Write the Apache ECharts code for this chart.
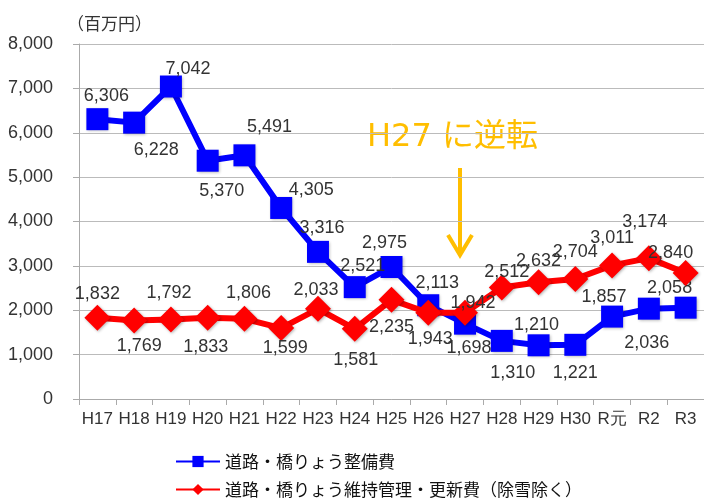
<!DOCTYPE html>
<html><head><meta charset="utf-8">
<script src="https://cdn.jsdelivr.net/npm/echarts@6/dist/echarts.min.js"></script>
<style>html,body{margin:0;padding:0;background:#fff}#c{width:704px;height:500px}</style>
</head><body><div id="c"></div>
<script>
const categories = ['H17','H18','H19','H20','H21','H22','H23','H24','H25','H26','H27','H28','H29','H30','R元','R2','R3'];
const seriesNames = ['道路・橋りょう整備費','道路・橋りょう維持管理・更新費（除雪除く）'];
const seriesBlue = [6306,6228,7042,5370,5491,4305,3316,2521,2975,2113,1698,1310,1210,1221,1857,2036,2058];
const seriesRed = [1832,1769,1792,1833,1806,1599,2033,1581,2235,1943,1942,2512,2632,2704,3011,3174,2840];
const yTicks = [0,1000,2000,3000,4000,5000,6000,7000,8000];
// label offsets (relative to each point), as placed in the original
const blueLabelOffset = [[9,-23],[22,27],[17,-17],[14,30],[25,-28],[30,-18],[4,-24],[8,-21],[-7,-24],[9,-22],[4,24],[11,32],[-2,-20],[0,28],[-8,-20],[-2,34],[-16,-20]];
const redLabelOffset = [[0,-24],[5,26],[-2,-26],[-2,29],[4,-26],[4,20],[-2,-19],[1,31],[0,27],[2,26],[8,-10],[5,-15],[0,-21],[0,-27],[0,-27],[-4,-36],[-15,-20]];

const fmt = v => v.toLocaleString('en-US');
const numFont = 'Liberation Sans, Arial, sans-serif';
const labelStyle = {fontSize:18, color:'#333', fontFamily:numFont};
function mk(vals, offs){
  return vals.map((v,i)=>({value:v, label:{show:true, position:'inside', offset:offs[i], formatter:()=>fmt(v), ...labelStyle}}));
}
const chart = echarts.init(document.getElementById('c'));
chart.setOption({
  animation:false,
  grid:{left:79, right:0, top:44, bottom:101},
  xAxis:{type:'category', data:categories, boundaryGap:true,
    axisLine:{lineStyle:{color:'#aaa'}}, axisTick:{show:true, length:6, lineStyle:{color:'#aaa'}},
    axisLabel:{fontSize:17, color:'#333', margin:12, interval:0, fontFamily:numFont}},
  yAxis:{type:'value', min:yTicks[0], max:yTicks[yTicks.length-1], interval:1000,
    axisLine:{show:true, lineStyle:{color:'#aaa'}}, axisTick:{show:true, length:6, lineStyle:{color:'#aaa'}},
    splitLine:{lineStyle:{color:'#bbb'}},
    axisLabel:{fontSize:18, color:'#333', margin:26, formatter:v=>fmt(v), fontFamily:numFont}},
  legend:[
    {orient:'vertical', left:175, top:453, padding:0, itemWidth:44, itemHeight:14,
      textStyle:{fontSize:17, color:'#111', fontFamily:'Noto Sans CJK JP'}, data:[seriesNames[0]]},
    {orient:'vertical', left:175, top:481, padding:0, itemWidth:44, itemHeight:14,
      textStyle:{fontSize:17, color:'#111', fontFamily:'Noto Sans CJK JP'}, data:[seriesNames[1]]}
  ],
  series:[
    {name:seriesNames[0], type:'line', data:mk(seriesBlue, blueLabelOffset), symbol:'rect', symbolSize:22,
      lineStyle:{color:'#0000ff', width:6}, itemStyle:{color:'#0000ff', shadowBlur:3, shadowColor:'rgba(0,0,0,0.3)', shadowOffsetX:1, shadowOffsetY:1}, z:2},
    {name:seriesNames[1], type:'line', data:mk(seriesRed, redLabelOffset), symbol:'diamond', symbolSize:[26,26],
      lineStyle:{color:'#ff0000', width:6}, itemStyle:{color:'#ff0000', shadowBlur:3, shadowColor:'rgba(0,0,0,0.3)', shadowOffsetX:1, shadowOffsetY:1}, z:3}
  ],
  graphic:[
    {type:'text', left:67, top:15, style:{text:'（百万円）', fontSize:17, fill:'#333', fontFamily:'Noto Sans CJK JP'}},
    {type:'text', left:367, top:122, style:{text:'H27 に逆転', fontSize:32, fill:'#ffbe00', fontFamily:'DejaVu Sans, Noto Sans CJK JP'}},
    {type:'line', shape:{x1:460, y1:168, x2:460, y2:254}, style:{stroke:'#ffbe00', lineWidth:4}},
    {type:'polyline', shape:{points:[[448,235],[460,255],[472,235]]}, style:{stroke:'#ffbe00', lineWidth:4, fill:null}}
  ]
});
</script></body></html>
